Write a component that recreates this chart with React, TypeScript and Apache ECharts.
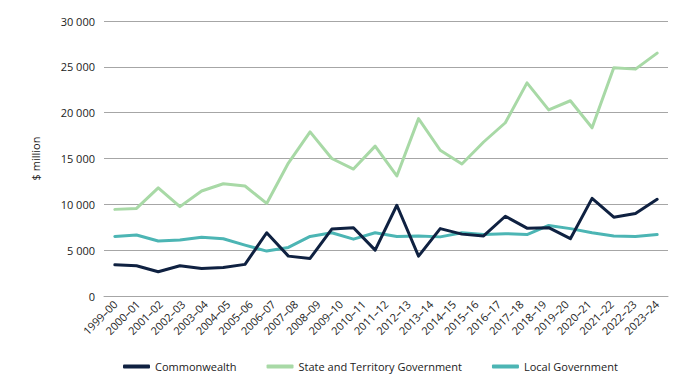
import React, { useEffect, useRef } from "react";
import * as echarts from "echarts";

const tickLabels = [
  "1999–00", "2000–01", "2001–02", "2002–03", "2003–04", "2004–05", "2005–06",
  "2006–07", "2007–08", "2008–09", "2009–10", "2010–11", "2011–12", "2012–13",
  "2013–14", "2014–15", "2015–16", "2016–17", "2017–18", "2018–19", "2019–20",
  "2020–21", "2021–22", "2022–23", "2023–24",
];

const commonwealth = [
  3400, 3300, 2650, 3300, 3000, 3100, 3450, 6900, 4350, 4100, 7300, 7450, 5000,
  9900, 4350, 7350, 6750, 6550, 8700, 7400, 7450, 6250, 10650, 8600, 9000, 10550,
];

const stateTerritory = [
  9450, 9550, 11800, 9750, 11450, 12250, 12000, 10100, 14500, 17900, 15000, 13850,
  16350, 13100, 19350, 15900, 14400, 16800, 18900, 23250, 20300, 21300, 18350,
  24900, 24750, 26500,
];

const localGov = [
  6500, 6650, 6000, 6100, 6400, 6250, 5550, 4900, 5300, 6500, 6900, 6200, 6900,
  6500, 6550, 6450, 6900, 6700, 6800, 6700, 7700, 7350, 6900, 6550, 6500, 6700,
];

const seriesNames = ["Commonwealth", "State and Territory Government", "Local Government"];
const seriesColors = ["#0f2141", "#a8d9a6", "#4cb5b4"];

const fmt = (v: number) => String(v).replace(/\B(?=(\d{3})+(?!\d))/g, " ");

export default function App() {
  const ref = useRef<HTMLDivElement>(null);
  useEffect(() => {
    if (!ref.current) return;
    const chart = echarts.init(ref.current, undefined, { renderer: "svg" });
    const pointKeys = commonwealth.map((_, i) => String(i));
    const datasets = [commonwealth, stateTerritory, localGov];
    chart.setOption({
      animation: false,
      textStyle: { fontFamily: "Open Sans, Lato, sans-serif" },
      grid: { left: 104, right: 14, top: 21, bottom: 83, containLabel: false },
      legend: {
        left: 118,
        bottom: 2,
        icon: "roundRect",
        itemWidth: 27,
        itemHeight: 4,
        itemGap: 30,
        textStyle: { fontSize: 11, color: "#222", fontFamily: "Open Sans, sans-serif" },
        data: seriesNames,
      },
      xAxis: [
        {
          type: "category",
          data: tickLabels,
          boundaryGap: true,
          axisLine: { show: true, lineStyle: { color: "#a6a6a6", width: 1 } },
          axisTick: { show: false },
          axisLabel: {
            rotate: 45,
            interval: 0,
            margin: 6,
            fontSize: 11,
            color: "#222",
          },
        },
        {
          type: "category",
          data: pointKeys,
          boundaryGap: true,
          show: false,
        },
      ],
      yAxis: {
        type: "value",
        min: 0,
        max: 30000,
        interval: 5000,
        name: "$ million",
        nameLocation: "middle",
        nameGap: 63,
        nameTextStyle: { fontSize: 11, color: "#222" },
        axisLine: { show: false },
        axisTick: { show: false },
        axisLabel: { formatter: fmt, fontSize: 11, color: "#222", margin: 9 },
        splitLine: { lineStyle: { color: "#a6a6a6", width: 1 } },
      },
      series: datasets.map((d, i) => ({
        name: seriesNames[i],
        type: "line",
        xAxisIndex: 1,
        data: d,
        symbol: "none",
        color: seriesColors[i],
        lineStyle: { width: 3, color: seriesColors[i], cap: "round", join: "round" },
        z: i === 0 ? 5 : 3,
      })),
    });
    return () => chart.dispose();
  }, []);
  return <div ref={ref} style={{ width: 682, height: 379, marginLeft: -8, marginTop: -8 }} />;
}
